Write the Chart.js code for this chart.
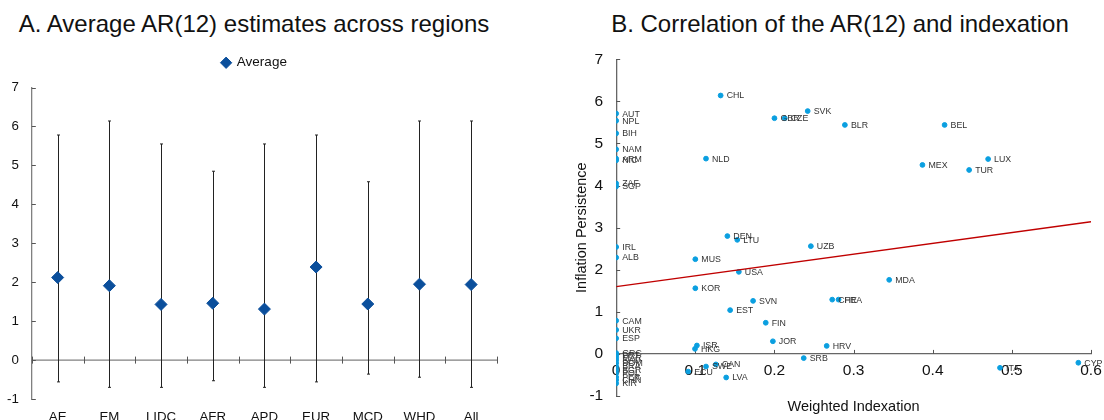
<!DOCTYPE html>
<html>
<head>
<meta charset="utf-8">
<script src="https://cdn.jsdelivr.net/npm/chart.js@4.4.0/dist/chart.umd.min.js"></script>
<style>
  html, body { margin: 0; padding: 0; background: #fff; overflow: hidden; }
  #wrap { position: relative; width: 1104px; height: 420px; overflow: hidden; font-family: Arial, "Liberation Sans", sans-serif; }
  .ttl { position: absolute; top: 10px; font-size: 24px; color: #111; white-space: nowrap; transform: translateX(-50%); }
  #cA { position: absolute; left: -10px; top: 48px; }
  #cB { position: absolute; left: 560px; top: 37px; }
</style>
</head>
<body>
<div id="wrap">
  <div class="ttl" style="left:254px">A. Average AR(12) estimates across regions</div>
  <div class="ttl" style="left:840px">B. Correlation of the AR(12) and indexation</div>
  <canvas id="cA" width="530" height="400"></canvas>
  <canvas id="cB" width="560" height="400"></canvas>
</div>
<script>
// panel A: regional averages with ranges
var regions = ['AE', 'EM', 'LIDC', 'AFR', 'APD', 'EUR', 'MCD', 'WHD', 'All'];
var avgAR   = [2.12, 1.91, 1.43, 1.46, 1.31, 2.39, 1.44, 1.95, 1.94];
var upperAR = [5.78, 6.14, 5.55, 4.85, 5.55, 5.78, 4.58, 6.14, 6.14];
var lowerAR = [-0.56, -0.70, -0.70, -0.53, -0.70, -0.56, -0.36, -0.44, -0.70];

// panel B: country scatter
var countries = ['CHL', 'AUT', 'NPL', 'BIH', 'NAM', 'ARM', 'NIC', 'ZAF', 'SGP', 'NLD',
  'GBR', 'CZE', 'SVK', 'BLR', 'BEL', 'MEX', 'LUX', 'TUR', 'IRL', 'ALB',
  'DEN', 'LTU', 'UZB', 'MUS', 'USA', 'KOR', 'SVN', 'EST', 'CHE', 'FRA',
  'MDA', 'CAM', 'UKR', 'ESP', 'FIN', 'JOR', 'ISR', 'HKG', 'HRV', 'SRB',
  'CAN', 'SWE', 'ECU', 'LVA', 'ITA', 'CYP', 'GRC', 'PRT', 'MAR', 'SAU',
  'DOM', 'BRA', 'BGR', 'POL', 'PER', 'CHN', 'KIR'];
var indexation = [0.132, 0, 0, 0, 0, 0, 0, 0, 0, 0.1135,
  0.200, 0.213, 0.242, 0.289, 0.415, 0.387, 0.470, 0.446, 0, 0,
  0.1405, 0.153, 0.246, 0.100, 0.155, 0.100, 0.173, 0.144, 0.273, 0.281,
  0.345, 0, 0, 0, 0.189, 0.198, 0.102, 0.0996, 0.266, 0.237,
  0.126, 0.1135, 0.091, 0.139, 0.485, 0.584, 0, 0, 0, 0,
  0, 0, 0, 0, 0, 0, 0];
var persistence = [6.14, 5.71, 5.54, 5.24, 4.86, 4.64, 4.60, 4.05, 3.98, 4.64,
  5.60, 5.60, 5.77, 5.44, 5.44, 4.49, 4.63, 4.37, 2.54, 2.29,
  2.80, 2.71, 2.56, 2.25, 1.95, 1.56, 1.26, 1.04, 1.29, 1.29,
  1.76, 0.79, 0.57, 0.37, 0.74, 0.30, 0.20, 0.12, 0.19, -0.10,
  -0.25, -0.30, -0.42, -0.56, -0.33, -0.21, 0.02, -0.03, -0.09, -0.15,
  -0.22, -0.30, -0.38, -0.46, -0.55, -0.62, -0.70];
var fitX = [0, 0.6];
var fitY = [1.60, 3.14];

var FONT = "Arial, 'Liberation Sans', sans-serif";
Chart.defaults.font.family = FONT;
Chart.defaults.color = '#111';

// a little extra room under the legend, and nudge it right
var legendGap = {
  id: 'legendGap',
  beforeInit: function(chart) {
    var origFit = chart.legend.fit;
    chart.legend.fit = function() {
      origFit.call(this);
      this.height += 8;
    };
  },
  afterLayout: function(chart) {
    chart.legend.left += 9;
    chart.legend.right += 9;
  }
};

// error bars, zero line and inside tick marks for panel A
var panelAExtras = {
  id: 'panelAExtras',
  beforeDatasetsDraw: function(chart) {
    var ctx = chart.ctx, xs = chart.scales.x, ys = chart.scales.y, a = chart.chartArea;
    ctx.save();
    // zero line
    var y0 = ys.getPixelForValue(0);
    ctx.strokeStyle = '#808080';
    ctx.lineWidth = 1.3;
    ctx.beginPath();
    ctx.moveTo(a.left, y0);
    ctx.lineTo(a.right, y0);
    ctx.stroke();
    // category boundary ticks
    ctx.lineWidth = 1;
    ctx.strokeStyle = '#555';
    for (var i = 0; i <= regions.length; i++) {
      var bx = Math.round(xs.getPixelForValue(i - 0.5)) + 0.5;
      ctx.beginPath();
      ctx.moveTo(bx, y0 - 3.5);
      ctx.lineTo(bx, y0 + 3.5);
      ctx.stroke();
    }
    // y ticks inside
    ys.ticks.forEach(function(t) {
      var ty = Math.round(ys.getPixelForValue(t.value)) + 0.5;
      ctx.beginPath();
      ctx.moveTo(a.left, ty);
      ctx.lineTo(a.left + 4, ty);
      ctx.stroke();
    });
    // error bars
    ctx.strokeStyle = '#222';
    for (var j = 0; j < regions.length; j++) {
      var x = Math.round(xs.getPixelForValue(j)) + 0.5;
      var yt = ys.getPixelForValue(upperAR[j]);
      var yb = ys.getPixelForValue(lowerAR[j]);
      ctx.beginPath();
      ctx.moveTo(x, yt);
      ctx.lineTo(x, yb);
      ctx.moveTo(x - 1.5, yt);
      ctx.lineTo(x + 1.5, yt);
      ctx.moveTo(x - 1.5, yb);
      ctx.lineTo(x + 1.5, yb);
      ctx.stroke();
    }
    ctx.restore();
  }
};

// point labels and inside tick marks for panel B
var panelBExtras = {
  id: 'panelBExtras',
  beforeDatasetsDraw: function(chart) {
    var ctx = chart.ctx, xs = chart.scales.x, ys = chart.scales.y, a = chart.chartArea;
    var y0 = ys.getPixelForValue(0);
    ctx.save();
    ctx.strokeStyle = '#555';
    ctx.lineWidth = 1;
    ys.ticks.forEach(function(t) {
      var ty = Math.round(ys.getPixelForValue(t.value)) + 0.5;
      ctx.beginPath();
      ctx.moveTo(a.left, ty);
      ctx.lineTo(a.left + 4, ty);
      ctx.stroke();
    });
    xs.ticks.forEach(function(t) {
      if (t.value === 0) return;
      var tx = Math.round(xs.getPixelForValue(t.value)) + 0.5;
      ctx.beginPath();
      ctx.moveTo(tx, y0);
      ctx.lineTo(tx, y0 - 4);
      ctx.stroke();
    });
    ctx.restore();
  },
  afterDatasetsDraw: function(chart) {
    var ctx = chart.ctx;
    var meta = chart.getDatasetMeta(1);
    ctx.save();
    ctx.font = '8.8px ' + FONT;
    ctx.fillStyle = '#333';
    ctx.textBaseline = 'middle';
    ctx.textAlign = 'left';
    meta.data.forEach(function(pt, i) {
      ctx.fillText(countries[i], pt.x + 6, pt.y + 0.5);
    });
    ctx.restore();
  }
};

new Chart(document.getElementById('cA'), {
  type: 'line',
  data: {
    labels: regions,
    datasets: [{
      label: 'Average',
      data: avgAR,
      showLine: false,
      pointStyle: 'rectRot',
      pointRadius: 6,
      pointHoverRadius: 6,
      backgroundColor: '#0b4f9c',
      borderColor: '#0b4f9c'
    }]
  },
  options: {
    responsive: false,
    animation: false,
    layout: { padding: { left: 4, right: 23, top: 0, bottom: 13 } },
    plugins: {
      legend: {
        labels: {
          usePointStyle: true,
          pointStyle: 'rectRot',
          boxWidth: 8,
          boxHeight: 8,
          padding: 8,
          color: '#111',
          font: { size: 13.5 }
        }
      },
      tooltip: { enabled: false }
    },
    scales: {
      x: {
        offset: true,
        grid: { display: false, drawTicks: false },
        border: { display: false },
        ticks: { font: { size: 13.3 }, color: '#111', padding: 10, maxRotation: 0, autoSkip: false }
      },
      y: {
        min: -1,
        max: 7,
        grid: { display: false, drawTicks: false },
        border: { color: '#808080', width: 1.3 },
        ticks: { stepSize: 1, font: { size: 13.3 }, color: '#111', padding: 13 }
      }
    }
  },
  plugins: [legendGap, panelAExtras]
});

new Chart(document.getElementById('cB'), {
  type: 'scatter',
  data: {
    datasets: [{
      type: 'line',
      label: 'Fit',
      data: fitX.map(function(x, i) { return { x: x, y: fitY[i] }; }),
      borderColor: '#c00000',
      borderWidth: 1.3,
      pointRadius: 0,
      fill: false
    }, {
      label: 'Countries',
      data: countries.map(function(c, i) { return { x: indexation[i], y: persistence[i] }; }),
      pointRadius: 2.4,
      pointHoverRadius: 2.4,
      backgroundColor: '#0a9fe0',
      borderColor: '#0a9fe0'
    }]
  },
  options: {
    responsive: false,
    animation: false,
    layout: { padding: { left: 13, right: 29, top: 6, bottom: 41 } },
    plugins: { legend: { display: false }, tooltip: { enabled: false } },
    scales: {
      x: {
        type: 'linear',
        position: { y: 0 },
        min: 0,
        max: 0.6,
        grid: { display: false, drawTicks: false },
        border: { color: '#666', width: 1.3 },
        ticks: { stepSize: 0.1, font: { size: 15.5 }, color: '#111', padding: 8 },
        title: { display: true, text: 'Weighted Indexation', font: { size: 14.5 }, color: '#111', padding: { top: 10 } }
      },
      y: {
        min: -1,
        max: 7,
        grid: { display: false, drawTicks: false },
        border: { color: '#666', width: 1.3 },
        ticks: { stepSize: 1, font: { size: 15.5 }, color: '#111', padding: 13 },
        title: { display: true, text: 'Inflation Persistence', font: { size: 14.5 }, color: '#111', padding: { top: 0, bottom: -14 } }
      }
    }
  },
  plugins: [panelBExtras]
});
</script>
</body>
</html>
